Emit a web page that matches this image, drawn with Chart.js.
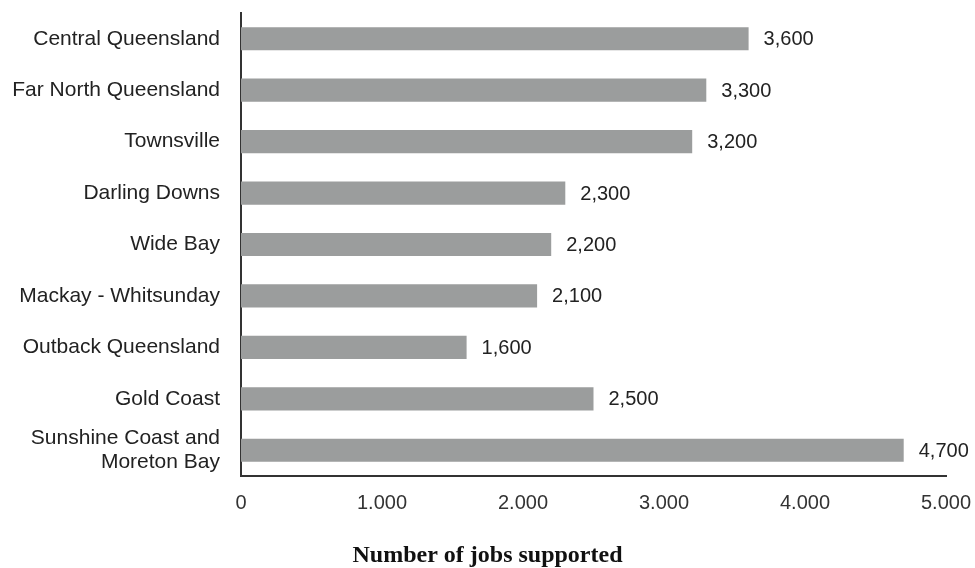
<!DOCTYPE html>
<html>
<head>
<meta charset="utf-8">
<script src="https://cdn.jsdelivr.net/npm/chart.js@4"></script>
<style>
  html, body { margin: 0; padding: 0; background: #fff; }
  #wrap { width: 975px; height: 568px; }
</style>
</head>
<body>
<div id="wrap"><canvas id="emplois"></canvas></div>
<script>
const regions = [
  'Central Queensland',
  'Far North Queensland',
  'Townsville',
  'Darling Downs',
  'Wide Bay',
  'Mackay - Whitsunday',
  'Outback Queensland',
  'Gold Coast',
  ['Sunshine Coast and', 'Moreton Bay']
];
const jobs = [3600, 3300, 3200, 2300, 2200, 2100, 1600, 2500, 4700];
const xTickLabels = ['0', '1.000', '2.000', '3.000', '4.000', '5.000'];

const sansFont = '"Liberation Sans", Arial, sans-serif';

// write the value just past the end of each bar
const valueLabels = {
  id: 'valueLabels',
  afterDatasetsDraw(chart) {
    const ctx = chart.ctx;
    const meta = chart.getDatasetMeta(0);
    ctx.save();
    ctx.font = '20px ' + sansFont;
    ctx.fillStyle = '#222';
    ctx.textAlign = 'left';
    ctx.textBaseline = 'middle';
    meta.data.forEach((bar, i) => {
      ctx.fillText(jobs[i].toLocaleString('en-US'), bar.x + 15, bar.y + 1);
    });
    ctx.restore();
  }
};

const ctx = document.getElementById('emplois').getContext('2d');

const emplois = new Chart(ctx, {
  type: 'bar',
  data: {
    labels: regions,
    datasets: [{
      data: jobs,
      backgroundColor: '#9b9d9d',
      borderWidth: 0,
      barPercentage: 0.45,
      categoryPercentage: 1
    }]
  },
  plugins: [valueLabels],
  options: {
    indexAxis: 'y',
    responsive: true,
    maintainAspectRatio: false,
    animation: false,
    layout: { padding: { top: 13, right: 0, bottom: 0, left: 0 } },
    plugins: {
      legend: { display: false },
      tooltip: { enabled: false },
      title: {
        display: true,
        position: 'bottom',
        text: 'Number of jobs supported',
        color: '#111',
        padding: { top: 0, bottom: 0 },
        font: { family: '"Liberation Serif", "Times New Roman", serif', size: 24, weight: 'bold', lineHeight: 1 }
      }
    },
    scales: {
      x: {
        min: 0,
        max: 5000,
        grid: { display: false, drawTicks: false },
        border: { display: true, color: '#333', width: 2 },
        ticks: {
          stepSize: 1000,
          padding: 15,
          color: '#333',
          font: { family: sansFont, size: 20 },
          callback: (value, index) => xTickLabels[index]
        },
        afterFit(scale) {
          scale.height = 68;
          scale.paddingLeft = 0;
          scale.paddingRight = 29;
        }
      },
      y: {
        grid: { display: false, drawTicks: false },
        border: { display: true, color: '#333', width: 2 },
        ticks: {
          autoSkip: false,
          padding: 21,
          color: '#222',
          font: { family: sansFont, size: 21, lineHeight: 1.15 }
        },
        afterFit(scale) {
          scale.width = 241;
          scale.paddingTop = 0;
          scale.paddingBottom = 0;
        }
      }
    }
  }
});
</script>
</body>
</html>
